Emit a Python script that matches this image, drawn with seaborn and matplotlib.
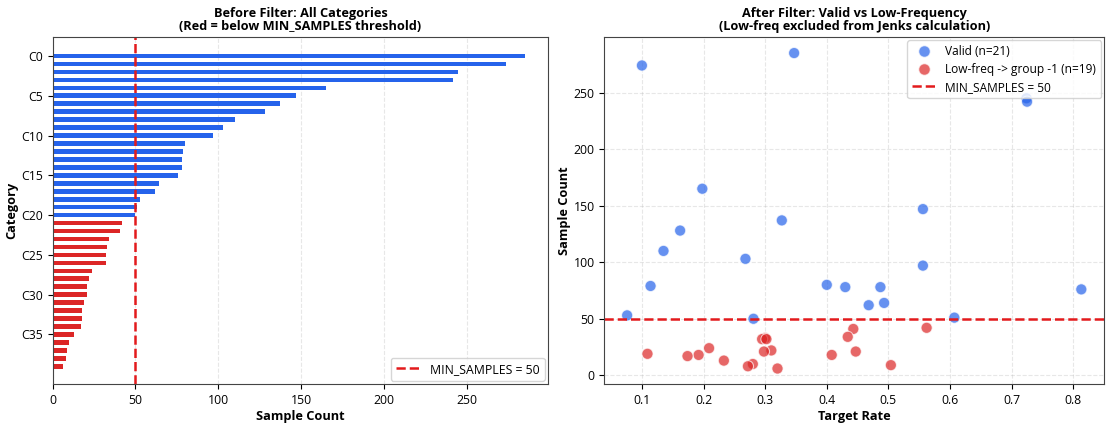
"""Before/after view of the MIN_SAMPLES low-frequency filter."""

import matplotlib

matplotlib.use("Agg")
import matplotlib.pyplot as plt
import pandas as pd
import seaborn as sns
from matplotlib.lines import Line2D

MIN_SAMPLES = 50

categories = [f"C{i}" for i in range(40)]
sample_counts = [285, 274, 245, 242, 165, 147, 137, 128, 110, 103,
                 97, 80, 79, 78, 78, 76, 64, 62, 53, 51,
                 50, 42, 41, 34, 33, 32, 32, 24, 22, 21,
                 21, 19, 18, 18, 17, 13, 10, 9, 8, 6]
target_rates = [0.347, 0.100, 0.724, 0.725, 0.198, 0.556, 0.327, 0.162, 0.135, 0.268,
                0.556, 0.400, 0.114, 0.430, 0.487, 0.813, 0.493, 0.468, 0.076, 0.607,
                0.281, 0.562, 0.443, 0.434, 0.300, 0.295, 0.302, 0.209, 0.310, 0.298,
                0.447, 0.109, 0.192, 0.408, 0.174, 0.233, 0.280, 0.504, 0.272, 0.320]
tick_categories = categories[::5]

BLUE = "#2563eb"
RED = "#dc2626"
LINE_RED = "#e31a1c"

df = pd.DataFrame({"category": categories, "count": sample_counts, "rate": target_rates})
df["status"] = ["valid" if c >= MIN_SAMPLES else "low" for c in df["count"]]
n_valid = int((df["status"] == "valid").sum())
n_low = int((df["status"] == "low").sum())

plt.rcParams["font.family"] = ["Open Sans", "DejaVu Sans"]
plt.rcParams["font.size"] = 8.8
plt.rcParams["xtick.labelsize"] = 8.8
plt.rcParams["ytick.labelsize"] = 8.8

fig = plt.figure(figsize=(11.07, 4.3), dpi=100)
ax1 = fig.add_axes([0.0475, 0.1063, 0.4478, 0.807])
ax2 = fig.add_axes([0.546, 0.1063, 0.4513, 0.807])

# left: all categories
sns.barplot(data=df, x="count", y="category", hue="status", order=categories,
            palette={"valid": BLUE, "low": RED}, hue_order=["valid", "low"],
            dodge=False, width=0.58, saturation=1, legend=False, ax=ax1)
ax1.axvline(MIN_SAMPLES, color=LINE_RED, linestyle="--", linewidth=1.8,
            label=f"MIN_SAMPLES = {MIN_SAMPLES}")
ax1.set_yticks([categories.index(c) for c in tick_categories])
ax1.set_yticklabels(tick_categories)
ax1.set_ylim(41.26, -2.35)
ax1.set_xlim(0, 299.25)
ax1.set_xlabel("Sample Count", fontweight="bold", fontsize=9.2, labelpad=2)
ax1.set_ylabel("Category", fontweight="bold", fontsize=9.2, labelpad=2)
ax1.set_title("Before Filter: All Categories\n(Red = below MIN_SAMPLES threshold)",
              fontweight="bold", fontsize=9.2, linespacing=1.05, pad=5)
ax1.grid(axis="x", linestyle="--", alpha=0.3)
ax1.set_axisbelow(True)
ax1.legend(loc="lower right", fontsize=8.8, borderaxespad=0.3)

# right: scatter of valid vs low-frequency
sns.scatterplot(data=df, x="rate", y="count", hue="status", hue_order=["valid", "low"],
                palette={"valid": BLUE, "low": RED}, s=65, alpha=0.7,
                edgecolor="white", linewidth=0.8, legend=False, ax=ax2)
ax2.axhline(MIN_SAMPLES, color=LINE_RED, linestyle="--", linewidth=1.8)
ax2.set_xlabel("Target Rate", fontweight="bold", fontsize=9.2, labelpad=2)
ax2.set_ylabel("Sample Count", fontweight="bold", fontsize=9.2, labelpad=2)
ax2.set_title("After Filter: Valid vs Low-Frequency\n(Low-freq excluded from Jenks calculation)",
              fontweight="bold", fontsize=9.2, linespacing=1.05, pad=5)
ax2.grid(True, linestyle="--", alpha=0.3)
ax2.set_axisbelow(True)
handles = [
    Line2D([], [], marker="o", linestyle="", markersize=8.5, markerfacecolor=BLUE,
           markeredgecolor="white", alpha=0.7, label=f"Valid (n={n_valid})"),
    Line2D([], [], marker="o", linestyle="", markersize=8.5, markerfacecolor=RED,
           markeredgecolor="white", alpha=0.7, label=f"Low-freq -> group -1 (n={n_low})"),
    Line2D([], [], color=LINE_RED, linestyle="--", linewidth=1.8,
           label=f"MIN_SAMPLES = {MIN_SAMPLES}"),
]
ax2.legend(handles=handles, loc="upper right", fontsize=8.6, borderaxespad=0.25,
           labelspacing=0.4)

for ax in (ax1, ax2):
    for spine in ax.spines.values():
        spine.set_color("#444444")

fig.savefig("out.png", dpi=100)
